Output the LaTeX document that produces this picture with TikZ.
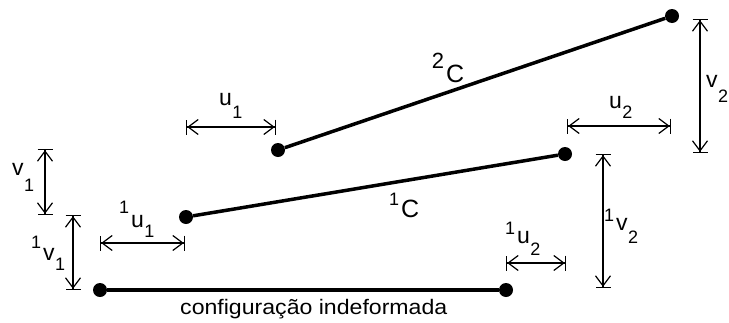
\documentclass[tikz,border=0pt]{standalone}
\usepackage{fontspec}
\setmainfont{Liberation Sans}
\usepackage{graphicx}
\usetikzlibrary{arrows.meta}
\newcommand\dg[1]{{\fontsize{18}{18}\selectfont #1}}
% \lbl{sup}{rise}{letter}{sub}{lower}
\newcommand\lbl[5]{\llap{\raisebox{#2pt}{\dg{#1}}\hspace{2pt}}#3\rlap{\hspace{0.5pt}\raisebox{-#5pt}{\dg{#4}}}}
\tikzset{
  dot/.style={circle,fill=black,inner sep=0pt,minimum size=14pt},
  bar/.style={line width=3.5pt},
  dimline/.style={line width=1.2pt,
    {Bar[width=15pt,sep=0pt]Straight Barb[length=10pt,width=15pt,sep=0pt]}-{Straight Barb[length=10pt,width=15pt,sep=0pt]Bar[width=15pt,sep=0pt]}},
  lab/.style={anchor=base west,inner sep=0pt,font=\fontsize{23}{23}\selectfont},
  clab/.style={anchor=base west,inner sep=0pt,font=\fontsize{25}{25}\selectfont},
}
\begin{document}
\begin{tikzpicture}[x=1pt,y=-1pt]
\useasboundingbox (0,0) rectangle (729,322);
% dots
\node[dot] (a0) at (100,290) {};
\node[dot] (b0) at (506,290) {};
\node[dot] (a1) at (186,217) {};
\node[dot] (b1) at (565,154) {};
\node[dot] (a2) at (278,150) {};
\node[dot] (b2) at (672,16) {};
% bars
\draw[bar] (a0) -- (b0);
\draw[bar] (a1) -- (b1);
\draw[bar] (a2) -- (b2);
% dimension end points
\coordinate (v1t) at (45,149);
\coordinate (v1b) at (45,215);
\coordinate (w1t) at (73,215);
\coordinate (w1b) at (73,290);
\coordinate (h1l) at (100,243);
\coordinate (h1r) at (185,243);
\coordinate (u1l) at (186,127);
\coordinate (u1r) at (276,127);
\coordinate (u2l) at (567,126);
\coordinate (u2r) at (671,126);
\coordinate (h2l) at (506,263);
\coordinate (h2r) at (566,263);
\coordinate (w2t) at (603,154);
\coordinate (w2b) at (603,288);
\coordinate (v2t) at (700,19);
\coordinate (v2b) at (700,153);
\draw[dimline] (v1t) -- (v1b);
\draw[dimline] (w1t) -- (w1b);
\draw[dimline] (h1l) -- (h1r);
\draw[dimline] (u1l) -- (u1r);
\draw[dimline] (u2l) -- (u2r);
\draw[dimline] (h2l) -- (h2r);
\draw[dimline] (w2t) -- (w2b);
\draw[dimline] (v2t) -- (v2b);
% labels
\node[lab] (lv1) at (12,175) {\lbl{}{0}{v}{1}{16}};
\node[lab] (lw1) at (43,260) {\lbl{1}{12}{v}{1}{10}};
\node[lab] (lh1) at (131,227) {\lbl{1}{14}{u}{1}{10}};
\node[lab] (lu1) at (219,105) {\lbl{}{0}{u}{1}{13}};
\node[lab] (lu2) at (609,108) {\lbl{}{0}{u}{2}{10}};
\node[lab] (lh2) at (517,243) {\lbl{1}{9}{u}{2}{12}};
\node[lab] (lw2) at (616,230) {\lbl{1}{9}{v}{2}{13}};
\node[lab] (lv2) at (706,87) {\lbl{}{0}{v}{2}{15}};
\node[clab] (lc1) at (401,217) {\lbl{1}{12}{C}{}{0}};
\node[clab] (lc2) at (446,82) {\lbl{\fontsize{22}{22}\selectfont 2}{14}{C}{}{0}};
\node[anchor=base west,inner sep=0pt,font=\fontsize{21}{21}\selectfont] (cfg) at (180,314) {\scalebox{1.1}[1]{configuração indeformada}};
\end{tikzpicture}
\end{document}
